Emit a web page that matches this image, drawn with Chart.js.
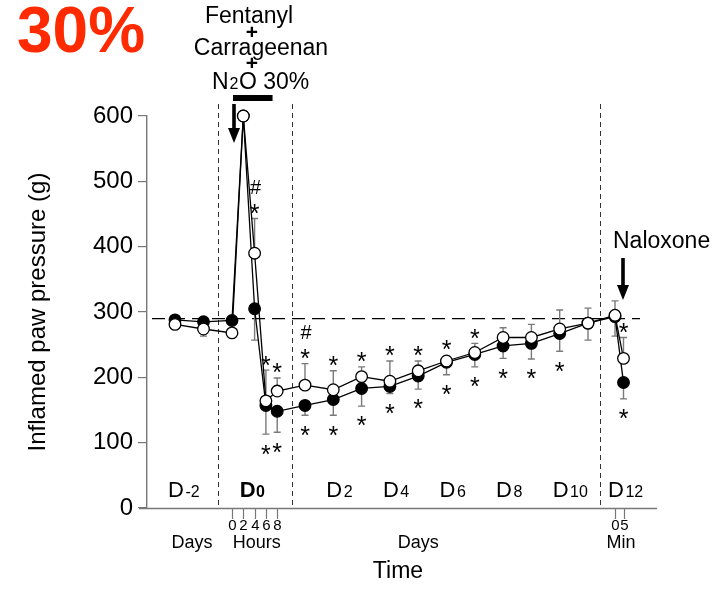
<!DOCTYPE html>
<html>
<head>
<meta charset="utf-8">
<script src="https://cdn.jsdelivr.net/npm/chart.js@4.4.1/dist/chart.umd.min.js"></script>
<style>
  html, body { margin: 0; padding: 0; background: #ffffff; }
  #wrap { width: 722px; height: 589px; position: relative; }
</style>
</head>
<body>
<div id="wrap"><canvas id="chart" width="722" height="589"></canvas></div>
<script>
// ---- Sampling times on the broken time axis (unit + value) ----
const timeUnits  = ['day', 'day', 'hour', 'hour', 'hour', 'hour', 'hour',
                    'day', 'day', 'day', 'day', 'day', 'day', 'day', 'day', 'day', 'day', 'day',
                    'min', 'min'];
const timeValues = [-2, -1, 0, 2, 4, 6, 8, 1, 2, 3, 4, 5, 6, 7, 8, 9, 10, 11, 0, 5];

// ---- Inflamed paw pressure (g), mean and SEM ----
const openMeans   = [281, 274, 268, 600, 390, 164, 179, 188, 181, 201, 194, 210, 225, 238, 261, 261, 274, 283, 295, 229];
const openSem     = [4, 4, 4, 0, 53, 47, 20, 33, 29, 15, 31, 15, 5, 14, 15, 20, 29, 23, 22, 32];
const filledMeans = [288, 285, 287, 600, 305, 157, 148, 157, 166, 183, 186, 202, 223, 235, 248, 252, 267, 283, 293, 192];
const filledSem   = [4, 22, 4, 0, 48, 44, 32, 15, 24, 27, 11, 20, 19, 19, 19, 24, 27, 26, 30, 25];

// ---- Significance marks above the open series / below the filled series ----
const marksAbove = ['', '', '', '', '#*', '*', '*', '#*', '*', '*', '*', '*', '*', '*', '', '', '', '', '', '*'];
const marksBelow = ['', '', '', '', '', '*', '*', '*', '*', '*', '*', '*', '*', '*', '*', '*', '*', '', '', '*'];

// ---- Axis labelling ----
const yTicks = [0, 100, 200, 300, 400, 500, 600];
const baselineValue = 290;
const hourTicks = [0, 2, 4, 6, 8];
const minTicks = [0, 5];
const dayLabelSubs  = ['-2', '2', '4', '6', '8', '10', '12'];
const dayLabelUnits = ['day', 'day', 'day', 'day', 'day', 'day', 'min'];
const dayLabelAt    = [-2, 2, 4, 6, 8, 10, 0];
const n2oHours = [0, 7];

// Piecewise time axis: each segment has its own origin and spacing
const segments = {
  before: { origin: 85,    step: 28.5 },
  hour:   { origin: 85,    step: 5.65 },
  after:  { origin: 129.7, step: 28.3 },
  min:    { origin: 468,   step: 1.7 }
};
const segmentBreaks = [71, 145, 453];

function timelineX(unit, v) {
  if (unit === 'hour') return segments.hour.origin + segments.hour.step * v;
  if (unit === 'min') return segments.min.origin + segments.min.step * v;
  const s = v < 0 ? segments.before : segments.after;
  return s.origin + s.step * v;
}

const xs = timeUnits.map((u, i) => timelineX(u, timeValues[i]));
const openData = openMeans.map((v, i) => ({ x: xs[i], y: v }));
const filledData = filledMeans.map((v, i) => ({ x: xs[i], y: v }));

const FONT = '"Liberation Sans", Arial, Helvetica, sans-serif';
Chart.defaults.font.family = FONT;

function font(size, bold) { return (bold ? 'bold ' : '') + size + 'px ' + FONT; }

function drawSubLabel(ctx, x, y, main, sub, opts) {
  const o = Object.assign({ size: 22, subSize: 16, bold: false, align: 'left', gap: 1.5 }, opts || {});
  ctx.font = font(o.size, o.bold);
  const wMain = ctx.measureText(main).width;
  ctx.font = font(o.subSize, o.bold);
  const wSub = ctx.measureText(sub).width;
  const total = wMain + o.gap + wSub;
  let left = x;
  if (o.align === 'center') left = x - total / 2;
  ctx.textAlign = 'left';
  ctx.textBaseline = 'alphabetic';
  ctx.font = font(o.size, o.bold);
  ctx.fillText(main, left, y);
  ctx.font = font(o.subSize, o.bold);
  ctx.fillText(sub, left + wMain + o.gap, y);
}

function drawArrow(ctx, x, yTop, yTip) {
  const headH = 15, headW = 12;
  ctx.fillStyle = '#000';
  ctx.fillRect(x - 1.8, yTop, 3.6, yTip - yTop - headH + 1);
  ctx.beginPath();
  ctx.moveTo(x - headW / 2, yTip - headH);
  ctx.lineTo(x + headW / 2, yTip - headH);
  ctx.lineTo(x, yTip);
  ctx.closePath();
  ctx.fill();
}

const decor = {
  id: 'decor',
  beforeDatasetsDraw(chart) {
    const { ctx, scales: { x, y }, chartArea: ca } = chart;
    ctx.save();
    // segment separators
    ctx.strokeStyle = '#333';
    ctx.lineWidth = 1;
    ctx.setLineDash([5, 4]);
    segmentBreaks.forEach(b => {
      const px = Math.round(x.getPixelForValue(b)) + 0.5;
      ctx.beginPath();
      ctx.moveTo(px, ca.top - 12);
      ctx.lineTo(px, ca.bottom);
      ctx.stroke();
    });
    // baseline reference
    ctx.strokeStyle = '#000';
    ctx.lineWidth = 1.2;
    ctx.setLineDash([13, 7]);
    const by = y.getPixelForValue(baselineValue);
    ctx.beginPath();
    ctx.moveTo(ca.left + 5, by);
    ctx.lineTo(ca.right - 17, by);
    ctx.stroke();
    ctx.setLineDash([]);
    // error bars: open series upward, filled series downward
    ctx.strokeStyle = '#7a7a7a';
    ctx.lineWidth = 1.4;
    const bar = (px, v, e, dir) => {
      if (e <= 0) return;
      const y0 = y.getPixelForValue(v);
      const y1 = y.getPixelForValue(v + dir * e);
      ctx.beginPath();
      ctx.moveTo(px, y0);
      ctx.lineTo(px, y1);
      ctx.moveTo(px - 3.5, y1);
      ctx.lineTo(px + 3.5, y1);
      ctx.stroke();
    };
    xs.forEach((xv, i) => {
      const px = x.getPixelForValue(xv);
      bar(px, filledMeans[i], filledSem[i], -1);
      bar(px, openMeans[i], openSem[i], 1);
    });
    ctx.restore();
  },
  afterDraw(chart) {
    const { ctx, scales: { x, y }, chartArea: ca } = chart;
    ctx.save();
    ctx.fillStyle = '#000';

    // x axis line and ticks
    ctx.strokeStyle = '#777';
    ctx.lineWidth = 1.4;
    ctx.beginPath();
    ctx.moveTo(ca.left - 8, ca.bottom + 0.5);
    ctx.lineTo(ca.right, ca.bottom + 0.5);
    ctx.stroke();
    ctx.lineWidth = 1.2;
    const tick = px => {
      ctx.beginPath();
      ctx.moveTo(px, ca.bottom);
      ctx.lineTo(px, ca.bottom + 11);
      ctx.stroke();
    };
    ctx.font = font(15);
    ctx.textAlign = 'center';
    ctx.textBaseline = 'alphabetic';
    hourTicks.forEach(h => {
      const px = Math.round(x.getPixelForValue(timelineX('hour', h))) + 0.5;
      tick(px);
      ctx.fillText(String(h), px, ca.bottom + 22);
    });
    minTicks.forEach(m => {
      const px = Math.round(x.getPixelForValue(timelineX('min', m))) + 0.5;
      tick(px);
      ctx.fillText(String(m), px, ca.bottom + 22);
    });

    // day labels inside the plot
    const dayY = ca.bottom - 11;
    dayLabelSubs.forEach((s, i) => {
      const px = x.getPixelForValue(timelineX(dayLabelUnits[i], dayLabelAt[i])) - 7;
      drawSubLabel(ctx, px, dayY, 'D', s, { size: 22, subSize: 16 });
    });
    drawSubLabel(ctx, x.getPixelForValue(timelineX('hour', 3.6)), dayY, 'D', '0',
      { size: 22, subSize: 16, bold: true, align: 'center', gap: 0.5 });

    // unit labels under the axis
    ctx.font = font(18);
    ctx.textAlign = 'center';
    ctx.fillText('Days', x.getPixelForValue(timelineX('day', -1.4)), ca.bottom + 40);
    ctx.fillText('Hours', x.getPixelForValue(timelineX('hour', 4.4)), ca.bottom + 40);
    ctx.fillText('Days', x.getPixelForValue(timelineX('day', 5)), ca.bottom + 40);
    ctx.fillText('Min', x.getPixelForValue(timelineX('min', 3.5)), ca.bottom + 40);
    ctx.font = font(23);
    ctx.fillText('Time', 398, ca.bottom + 70);

    // significance marks
    ctx.textAlign = 'center';
    ctx.textBaseline = 'alphabetic';
    const starSize = 25;
    xs.forEach((xv, i) => {
      const px = x.getPixelForValue(xv);
      const a = marksAbove[i];
      if (a) {
        const top = Math.min(y.getPixelForValue(openMeans[i] + openSem[i]), y.getPixelForValue(openMeans[i]) - 6);
        const starY = top - 11;
        ctx.font = font(starSize);
        ctx.fillText('*', px, starY + 0.575 * starSize);
        if (a.indexOf('#') >= 0) {
          ctx.font = font(20);
          ctx.fillText('#', px + 1, starY - 21 + 7.5);
        }
      }
      if (marksBelow[i]) {
        const bottom = Math.max(y.getPixelForValue(filledMeans[i] - filledSem[i]), y.getPixelForValue(filledMeans[i]) + 6);
        const starY = bottom + 14;
        ctx.font = font(starSize);
        ctx.fillText('*', px, starY + 0.575 * starSize);
      }
    });

    // treatment annotation above the peak
    ctx.textAlign = 'center';
    ctx.font = font(23);
    ctx.fillText('Fentanyl', 249, 23);
    ctx.fillText('Carrageenan', 261, 55);
    ctx.font = font(21, true);
    ctx.fillText('+', 252, 39);
    ctx.fillText('+', 252, 70);
    ctx.textAlign = 'left';
    ctx.font = font(23);
    let nx = 212;
    ctx.fillText('N', nx, 89);
    nx += ctx.measureText('N').width + 1;
    ctx.font = font(16);
    ctx.fillText('2', nx, 89);
    nx += ctx.measureText('2').width + 0.5;
    ctx.font = font(23);
    ctx.fillText('O 30%', nx, 89);

    // exposure bar and injection arrow
    const b0 = x.getPixelForValue(timelineX('hour', n2oHours[0]));
    const b1 = x.getPixelForValue(timelineX('hour', n2oHours[1]));
    ctx.fillRect(b0 + 1, 95, b1 - b0, 6);
    drawArrow(ctx, x.getPixelForValue(timelineX('hour', 0)) + 2, 104, 143);

    // naloxone
    ctx.font = font(23);
    ctx.textAlign = 'left';
    ctx.fillText('Naloxone', 613, 248);
    drawArrow(ctx, x.getPixelForValue(timelineX('min', 0)) + 8, 258, 300);

    // panel title
    ctx.fillStyle = '#ff2a00';
    ctx.font = font(64, true);
    ctx.fillText('30%', 17, 52);
    ctx.restore();
  }
};

new Chart(document.getElementById('chart'), {
  type: 'line',
  data: {
    datasets: [
      {
        label: 'open',
        data: openData,
        borderColor: '#000',
        borderWidth: 1.3,
        pointRadius: 5.8,
        pointBorderWidth: 1.3,
        pointBackgroundColor: '#fff',
        pointBorderColor: '#000',
        tension: 0,
        clip: false
      },
      {
        label: 'filled',
        data: filledData,
        borderColor: '#000',
        borderWidth: 1.3,
        pointRadius: 5.8,
        pointBorderWidth: 1.3,
        pointBackgroundColor: '#000',
        pointBorderColor: '#000',
        tension: 0,
        clip: false
      }
    ]
  },
  options: {
    responsive: false,
    animation: false,
    devicePixelRatio: 1,
    layout: { padding: { left: 0, right: 65, top: 116, bottom: 81 } },
    plugins: { legend: { display: false }, tooltip: { enabled: false } },
    scales: {
      x: { type: 'linear', min: 0, max: 510, display: false },
      y: {
        type: 'linear',
        min: 0,
        max: 600,
        afterFit: s => { s.width = 147; },
        afterBuildTicks: s => { s.ticks = yTicks.map(v => ({ value: v })); },
        ticks: { color: '#000', font: { size: 24 }, padding: 5 },
        grid: { drawOnChartArea: false, tickLength: 9, color: '#777', tickColor: '#777', lineWidth: 1.2 },
        border: { color: '#777', width: 1.4 },
        title: {
          display: true,
          text: 'Inflamed paw pressure (g)',
          color: '#000',
          font: { size: 24 },
          padding: { top: 24, bottom: 0 }
        }
      }
    }
  },
  plugins: [decor]
});
</script>
</body>
</html>
